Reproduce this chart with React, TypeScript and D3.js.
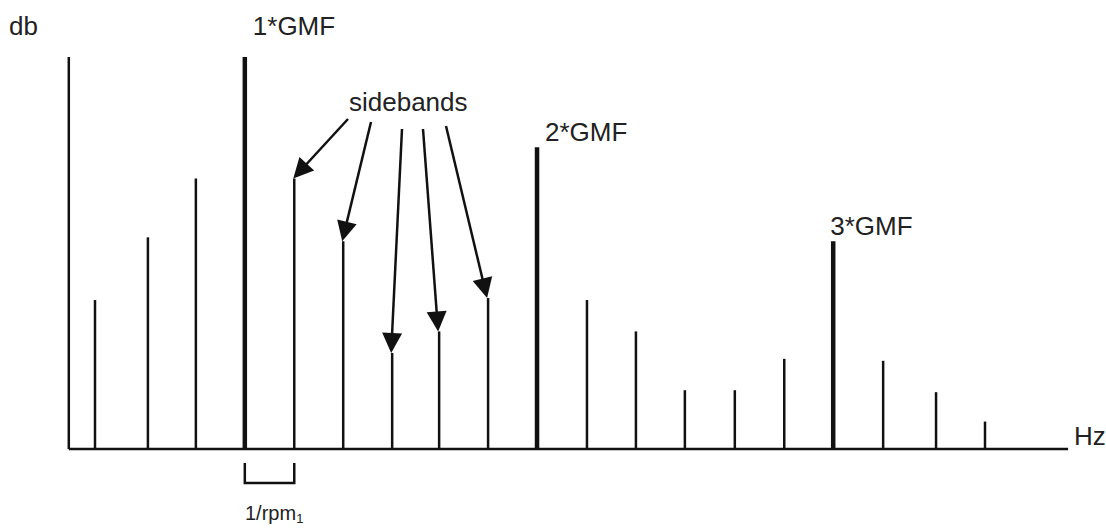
import React from 'react';
import * as d3 from 'd3';

// spectrum lines: frequency (in sideband steps) and amplitude (0-100 db-ish)
const freqs = [0, 1.07, 2.04, 3.03, 4.03, 5.02, 6.01, 6.96, 7.95, 8.94, 9.95, 10.94, 11.93, 12.94, 13.94, 14.93, 15.94, 17.01, 18];
const amps = [38, 54, 69, 100, 69, 53, 24.5, 30, 38.5, 77, 38, 30, 15, 15, 23, 53, 22.5, 14.5, 7];
const gmfIndex = [3, 9, 15];
const gmfLabels = ['1*GMF', '2*GMF', '3*GMF'];
const gmfLabelShift = [8, 8, -3];
const sidebandTargets = [4, 5, 6, 7, 8];
// where the arrows leave the "sidebands" label
const arrowStarts: [number, number][] = [[348, 119], [371, 122], [402, 129], [423, 129], [446, 126]];

const W = 1106;
const H = 528;

export default function App() {
  const x = d3.scaleLinear().domain([0, 18]).range([95, 985]);
  const y = d3.scaleLinear().domain([0, 100]).range([449, 57]);
  const x0 = x(-0.53);
  const x1 = x(19.68);
  const ink = '#111';
  const font = '"Liberation Sans", Arial, Helvetica, sans-serif';

  const arrowHead = (sx: number, sy: number, tx: number, ty: number) => {
    const a = Math.atan2(ty - sy, tx - sx);
    const len = 20;
    const half = 10;
    const bx = tx - len * Math.cos(a);
    const by = ty - len * Math.sin(a);
    const px = -Math.sin(a) * half;
    const py = Math.cos(a) * half;
    return `M${tx},${ty}L${bx + px},${by + py}L${bx - px},${by - py}Z`;
  };

  return (
    <svg width={W} height={H} style={{ position: 'absolute', left: 0, top: 0, background: '#fff' }}>
      {/* axes */}
      <line x1={x0} x2={x0} y1={y(100)} y2={y(0)} stroke={ink} strokeWidth={2.5} />
      <line x1={x0} x2={x1} y1={y(0)} y2={y(0)} stroke={ink} strokeWidth={2.5} />

      {/* spectrum lines */}
      {freqs.map((f, i) => (
        <line
          key={i}
          x1={x(f)}
          x2={x(f)}
          y1={y(0)}
          y2={y(amps[i])}
          stroke={ink}
          strokeWidth={gmfIndex.includes(i) ? 4.5 : 2.5}
        />
      ))}

      {/* sideband arrows */}
      {sidebandTargets.map((t, k) => {
        const [sx, sy] = arrowStarts[k];
        const tx = x(freqs[t]) - 1;
        const ty = y(amps[t]);
        const a = Math.atan2(ty - sy, tx - sx);
        return (
          <g key={k}>
            <line x1={sx} y1={sy} x2={tx - 15 * Math.cos(a)} y2={ty - 15 * Math.sin(a)} stroke={ink} strokeWidth={2.5} />
            <path d={arrowHead(sx, sy, tx, ty)} fill={ink} />
          </g>
        );
      })}

      {/* bracket for 1/rpm */}
      <path
        d={`M${x(freqs[3])},463V483H${x(freqs[4])}V463`}
        fill="none"
        stroke={ink}
        strokeWidth={2.5}
      />

      {/* labels */}
      <g fontFamily={font} fill="#222">
        <text x={9} y={35} fontSize={26}>db</text>
        {gmfIndex.map((gi, k) => (
          <text key={k} x={x(freqs[gi]) + gmfLabelShift[k]} y={k === 0 ? 35 : y(amps[gi]) - 6} fontSize={26}>
            {gmfLabels[k]}
          </text>
        ))}
        <text x={349} y={111} fontSize={26}>sidebands</text>
        <text x={1074} y={445} fontSize={26}>Hz</text>
        <text x={245} y={520} fontSize={20}>
          1/rpm<tspan fontSize={13} dy={3}>1</tspan>
        </text>
      </g>
    </svg>
  );
}
